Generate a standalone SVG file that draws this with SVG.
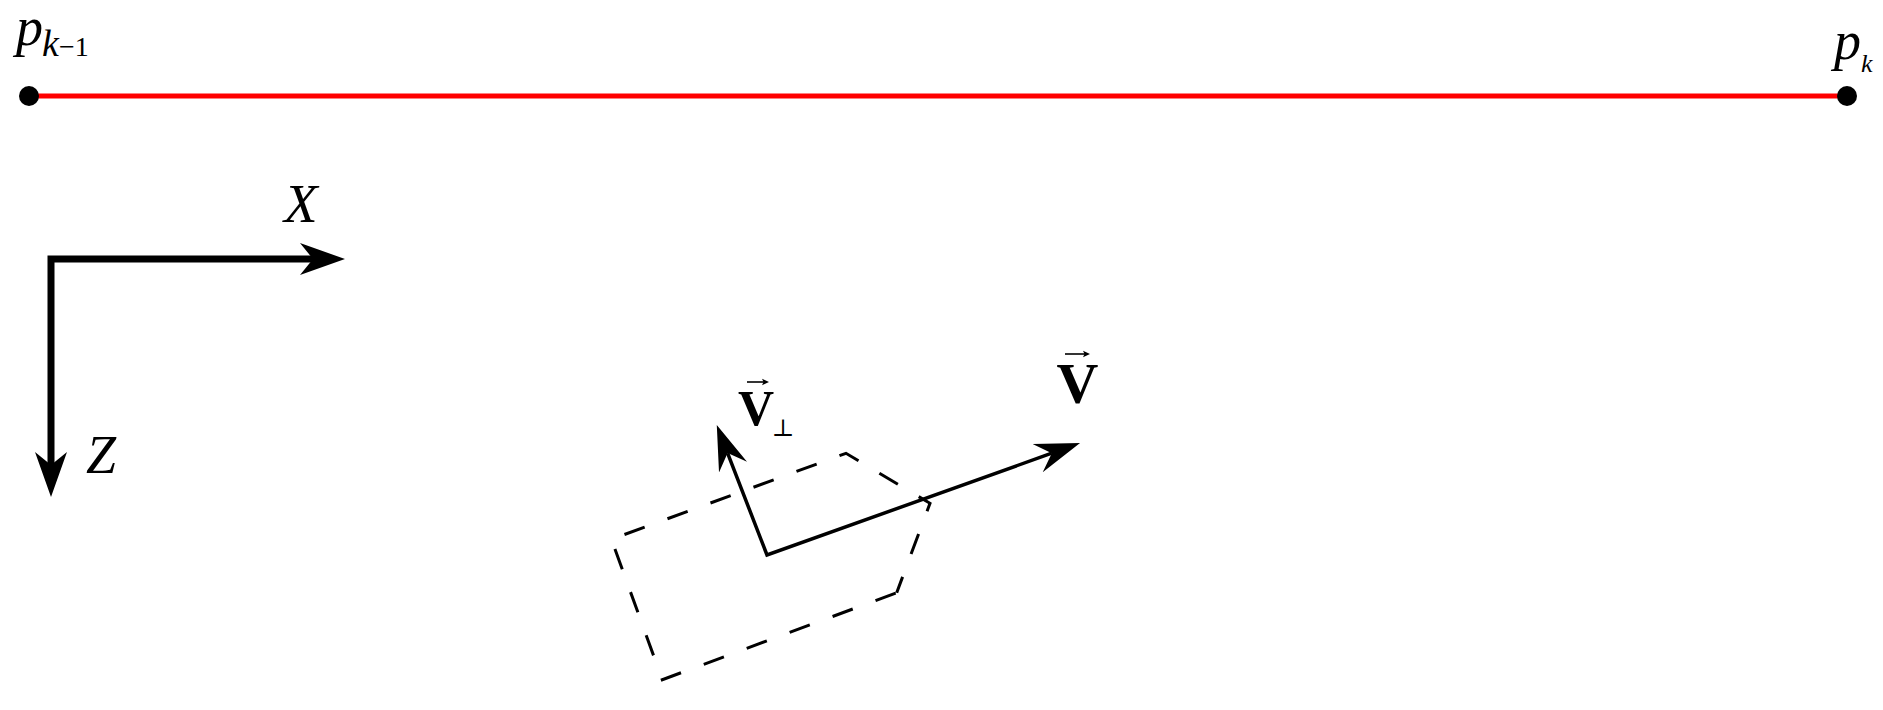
<svg xmlns="http://www.w3.org/2000/svg" width="1883" height="710" viewBox="0 0 1883 710">
<style>
.math{font-family:"Liberation Serif","Times New Roman",serif;fill:#000}
.it{font-style:italic}
.bf{font-weight:bold}
.axis{fill:none;stroke:#000;stroke-width:7;stroke-linejoin:miter}
.vec{fill:none;stroke:#000;stroke-width:3.5;stroke-linejoin:miter}
.accent{fill:none;stroke:#000;stroke-width:1.6}
.dash{fill:none;stroke:#000;stroke-width:3;stroke-dasharray:21.5 24.3;stroke-dashoffset:4.6}
.seg{stroke:#ff0000;stroke-width:5}
</style>
<defs>
<marker id="axisHead" markerUnits="userSpaceOnUse" viewBox="0 -17 46 34" markerWidth="46" markerHeight="34" refX="13" refY="0" orient="auto-start-reverse">
<path d="M0,-16 L45,0 L0,16 L13,0 Z" fill="#000"/>
</marker>
<marker id="vecHead" markerUnits="userSpaceOnUse" viewBox="0 -16 46 32" markerWidth="46" markerHeight="32" refX="15" refY="0" orient="auto-start-reverse">
<path d="M0,-15 L45,0 L0,15 L15,0 Z" fill="#000"/>
</marker>
<marker id="accHead" markerUnits="userSpaceOnUse" viewBox="0 -4 8 8" markerWidth="8" markerHeight="8" refX="2" refY="0" orient="auto">
<path d="M0,-3.2 L7,0 L0,3.2 L1.5,0 Z" fill="#000"/>
</marker>
</defs>

<g id="segment">
<line class="seg" x1="29" y1="96" x2="1847" y2="96"/>
</g>
<g id="node-pk-1">
<circle cx="29" cy="96" r="10" fill="#000"/>
<text class="math it" x="16" y="45" font-size="54">p</text>
<text class="math it" x="42" y="56" font-size="38">k</text>
<text class="math" x="59" y="56" font-size="28">−1</text>
</g>
<g id="node-pk">
<circle cx="1847" cy="96" r="10" fill="#000"/>
<text class="math it" x="1834" y="59" font-size="54">p</text>
<text class="math it" x="1861" y="72" font-size="26">k</text>
</g>

<g id="axes">
<path class="axis" d="M313,259 H51 V465" marker-start="url(#axisHead)" marker-end="url(#axisHead)"/>
<text class="math it" x="284" y="222" font-size="55">X</text>
<text class="math it" x="86" y="473" font-size="54">Z</text>
</g>

<g id="frame">
<path class="dash" d="M896.7,592.7 L930,503.3 L846,453.3 L611.4,539.3 L662.3,679.7 Z"/>
</g>

<g id="connectors">
<path class="vec" d="M727.6,453.1 L767,555 L1051.8,453.2" marker-start="url(#vecHead)" marker-end="url(#vecHead)"/>
</g>

<g id="label-V">
<text class="math bf" x="1077.5" y="403" font-size="58" text-anchor="middle">V</text>
<path class="accent" d="M1065,354 H1085" marker-end="url(#accHead)"/>
</g>
<g id="label-Vperp">
<text class="math bf" x="756" y="425" font-size="50" text-anchor="middle">V</text>
<path class="accent" d="M747,382 H764" marker-end="url(#accHead)"/>
<text x="783" y="436" font-size="24" text-anchor="middle" style="font-family:'DejaVu Serif','Liberation Serif',serif">⊥</text>
</g>
</svg>
